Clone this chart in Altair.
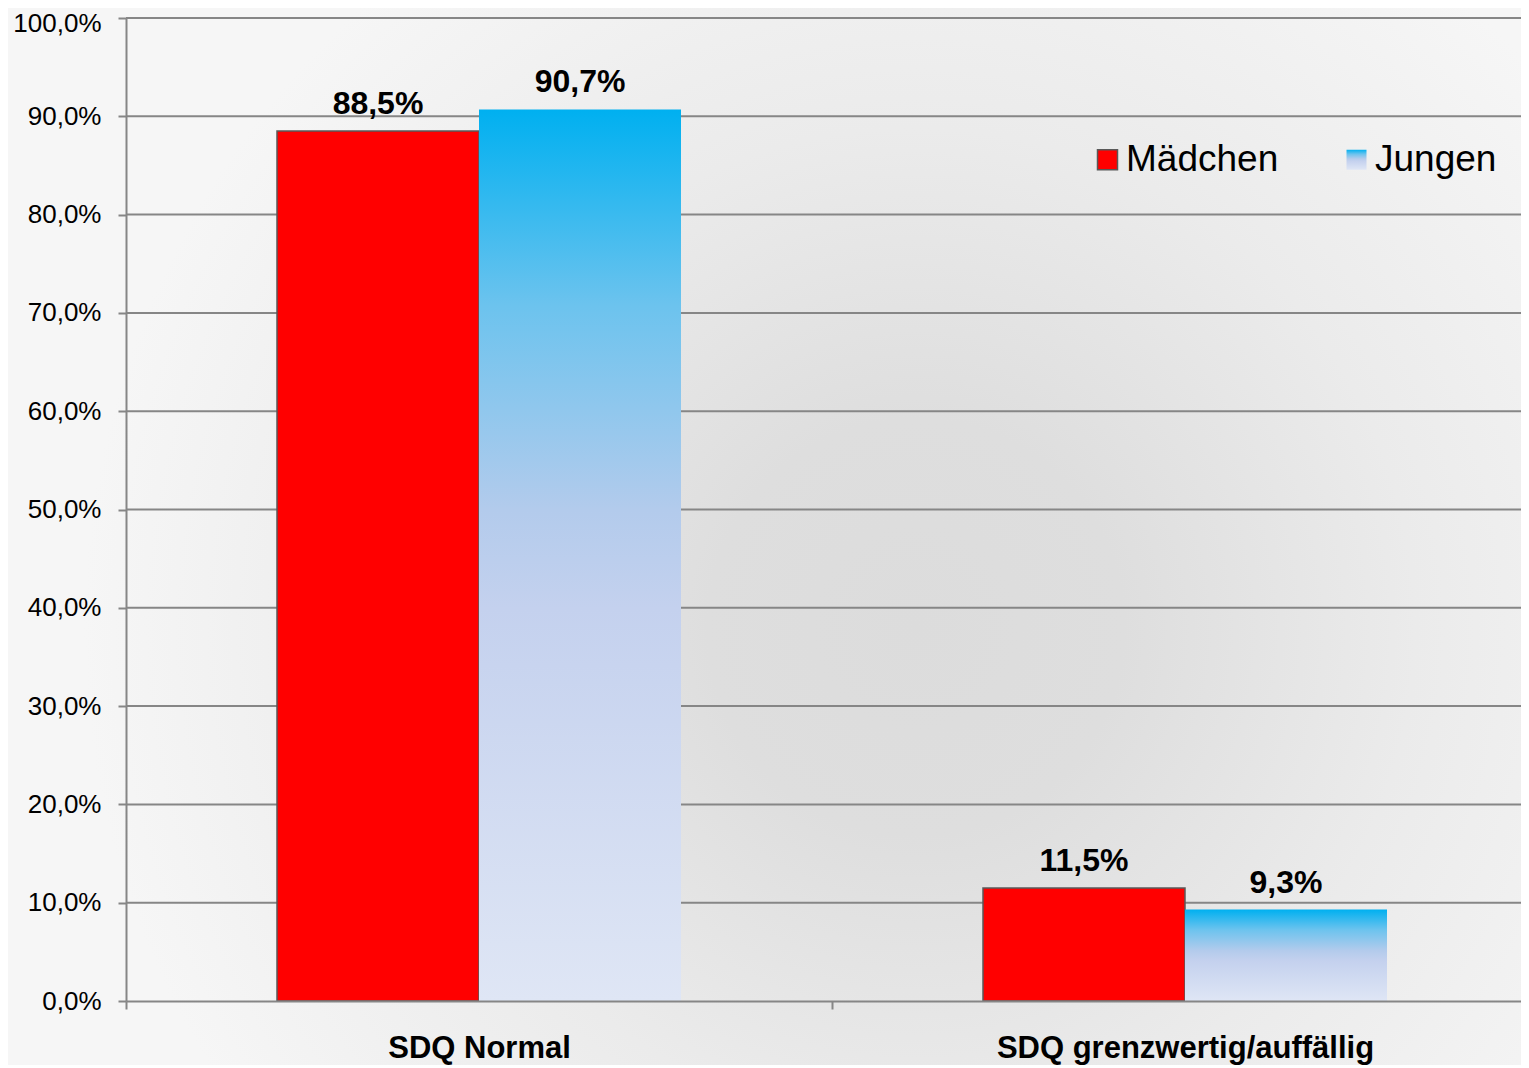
import altair as alt
import pandas as pd

categories = ["SDQ Normal", "SDQ grenzwertig/auffällig"]
groups = ["Mädchen", "Jungen"]
maedchen = [88.5, 11.5]
jungen = [90.7, 9.3]
y_ticks = [0, 10, 20, 30, 40, 50, 60, 70, 80, 90, 100]

rows = []
for i, c in enumerate(categories):
    for g, vals in (("Mädchen", maedchen), ("Jungen", jungen)):
        v = vals[i]
        rows.append({"cat": c, "group": g, "value": v,
                     "label": f"{v:.1f}".replace(".", ",") + "%"})
df = pd.DataFrame(rows)
grid_df = pd.DataFrame({"value": y_ticks[1:]})

W, H = 1395, 983
PAD = {"left": 118, "top": 10, "right": 0, "bottom": 64}
FONT = "Liberation Sans"
GRAY = "#868686"

# vertical blue gradient of the "Jungen" bars (also used for the legend symbol)
JUNGEN_FILL = {"expr": (
    "{gradient: 'linear', x1: 0, y1: 0, x2: 0, y2: 1, stops: ["
    "{offset: 0, color: '#00B0F0'}, {offset: 0.22, color: '#6CC3EE'}, "
    "{offset: 0.45, color: '#B3CBEC'}, {offset: 0.56, color: '#C4D1EE'}, "
    "{offset: 1, color: '#DFE6F5'}]}")}

BG_GRAD = {
    "gradient": "radial", "x1": 0.6, "y1": 0.56, "r1": 0,
    "x2": 0.6, "y2": 0.56, "r2": 0.55,
    "stops": [
        {"offset": 0, "color": "#DCDCDC"},
        {"offset": 0.25, "color": "#DEDEDE"},
        {"offset": 0.6, "color": "#EBEBEB"},
        {"offset": 1, "color": "#F6F6F6"},
    ],
}

x_scale = alt.Scale(domain=categories, paddingInner=0, paddingOuter=0, range=[0, 1412])
y_scale = alt.Scale(domain=[0, 100], nice=False)
off_scale = alt.Scale(domain=groups, paddingInner=0, paddingOuter=0.7475)

y_axis = alt.Axis(values=y_ticks, grid=False, labelFont=FONT,
                  labelFontSize=26, labelColor="black",
                  labelPadding=17, tickSize=8, tickColor=GRAY,
                  tickWidth=2, domainColor=GRAY, domainWidth=2,
                  labelOffset={"condition": {"test": "datum.value >= 100", "value": 5}, "value": 0},
                  labelExpr="replace(format(datum.value, '.1f'), '.', ',') + '%'",
                  zindex=1)
x_axis = alt.Axis(labelAngle=0, labelFont=FONT, labelFontSize=31,
                  labelFontWeight="bold", labelColor="black", labelLimit=0,
                  labelPadding=24, tickSize=8, tickColor=GRAY, tickBand="extent",
                  tickWidth=2, domainColor=GRAY, domainWidth=2,
                  grid=False, zindex=1)

leg_kwargs = dict(orient="none", legendX=963, legendY=123,
                  direction="horizontal", columns=2, symbolType="square",
                  symbolSize=400, symbolStrokeWidth=1.5, symbolOpacity=1,
                  labelFont=FONT, labelFontSize=37, labelColor="black",
                  labelOffset=0, columnPadding=59, title=None, padding=0)

x_enc = alt.X("cat:N", sort=categories, scale=x_scale, title=None, axis=x_axis)
y_enc = alt.Y("value:Q", scale=y_scale, title=None, axis=y_axis)
off = alt.XOffset("group:N", scale=off_scale, sort=groups)

bg = alt.Chart(alt.Data(values=[{"a": 1}])).mark_rect(fill=BG_GRAD).encode(
    x=alt.value(-PAD["left"]), x2=alt.value(W + PAD["right"]),
    y=alt.value(-PAD["top"]), y2=alt.value(H + PAD["bottom"]))

grid = alt.Chart(grid_df).mark_rule(color=GRAY, strokeWidth=2).encode(
    y=y_enc, x=alt.value(0), x2=alt.value(W))

bars = alt.Chart(df).mark_bar(strokeWidth=1.5).encode(
    x=x_enc, xOffset=off, y=y_enc,
    fill=alt.Fill("group:N", sort=groups,
                  scale=alt.Scale(domain=groups, range=["#FF0000", JUNGEN_FILL]),
                  legend=alt.Legend(**leg_kwargs)),
    stroke=alt.Stroke("group:N", sort=groups,
                      scale=alt.Scale(domain=groups, range=["#595959", "transparent"]),
                      legend=alt.Legend(**leg_kwargs)))

text = alt.Chart(df).mark_text(font=FONT, fontSize=32, fontWeight="bold",
                               color="black", baseline="alphabetic", dy=-17).encode(
    x=x_enc, xOffset=off, y=y_enc, text="label:N")

chart = alt.layer(bg, grid, bars, text).properties(
    width=W, height=H, padding=PAD, autosize=alt.AutoSizeParams(type="none"),
    background="#F4F4F4"
).configure_view(stroke=None)

chart.save("out.html", embed_options={"renderer": "svg", "actions": False})
